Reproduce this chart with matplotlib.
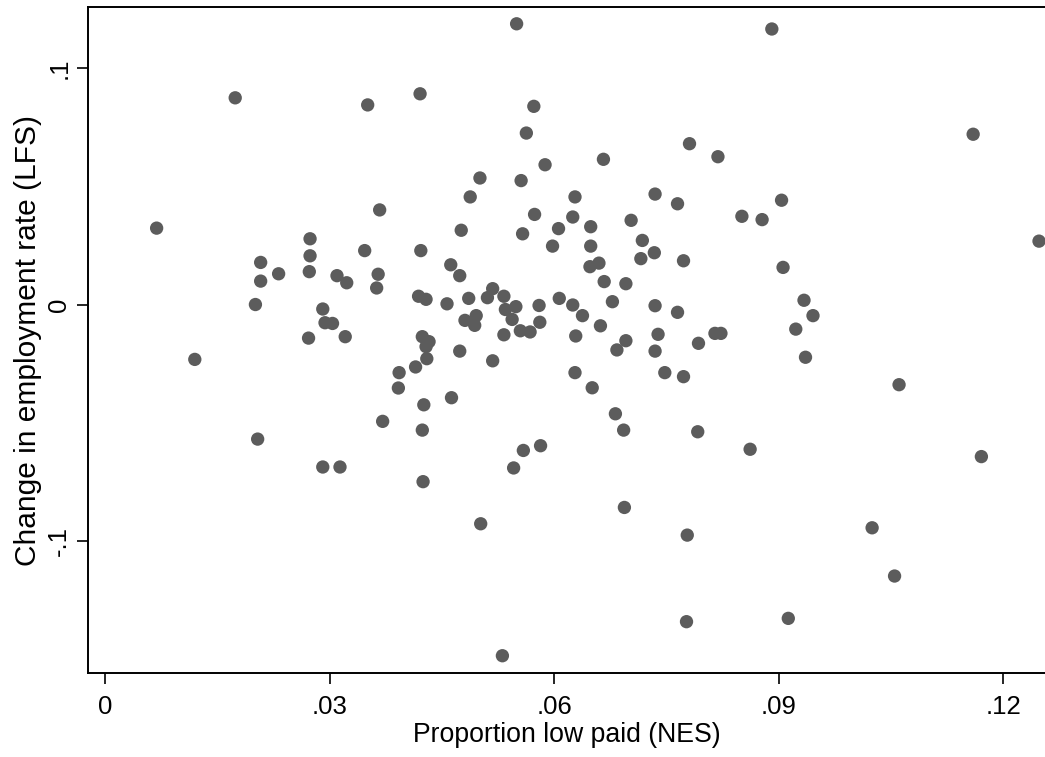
import matplotlib.pyplot as plt
import numpy as np

plt.rcParams['font.family'] = ['Liberation Sans', 'DejaVu Sans']

# proportion low paid (NES) per area
low_paid = [
    0.0069, 0.0174, 0.0120, 0.0201, 0.0208, 0.0208, 0.0204, 0.0232, 0.0274, 0.0274,
    0.0273, 0.0272, 0.0291, 0.0294, 0.0304, 0.0291, 0.0314, 0.0310, 0.0323, 0.0321,
    0.0347, 0.0351, 0.0365, 0.0363, 0.0367, 0.0371, 0.0392, 0.0393, 0.0415, 0.0419,
    0.0421, 0.0422, 0.0424, 0.0424, 0.0425, 0.0426, 0.0429, 0.0429, 0.0430, 0.0433,
    0.0457, 0.0462, 0.0463, 0.0474, 0.0474, 0.0476, 0.0481, 0.0486, 0.0488, 0.0494,
    0.0496, 0.0501, 0.0502, 0.0511, 0.0518, 0.0518, 0.0531, 0.0533, 0.0535, 0.0533,
    0.0544, 0.0546, 0.0549, 0.0550, 0.0555, 0.0556, 0.0558, 0.0559, 0.0563, 0.0568,
    0.0573, 0.0574, 0.0580, 0.0581, 0.0582, 0.0588, 0.0598, 0.0606, 0.0607, 0.0625,
    0.0625, 0.0628, 0.0628, 0.0629, 0.0638, 0.0648, 0.0649, 0.0649, 0.0651, 0.0660,
    0.0662, 0.0666, 0.0667, 0.0678, 0.0682, 0.0684, 0.0693, 0.0694, 0.0696, 0.0696,
    0.0703, 0.0716, 0.0718, 0.0734, 0.0735, 0.0735, 0.0735, 0.0739, 0.0748, 0.0765,
    0.0765, 0.0773, 0.0773, 0.0777, 0.0778, 0.0781, 0.0792, 0.0793, 0.0815, 0.0823,
    0.0819, 0.0851, 0.0862, 0.0878, 0.0891, 0.0904, 0.0906, 0.0913, 0.0923, 0.0934,
    0.0936, 0.0946, 0.1025, 0.1055, 0.1061, 0.1160, 0.1171, 0.1248,
]

# change in employment rate (LFS)
emp_change = [
    0.0323, 0.0874, -0.0232, 0.0000, 0.0178, 0.0099, -0.0569, 0.0130, 0.0278, 0.0206,
    0.0139, -0.0142, -0.0019, -0.0077, -0.0080, -0.0687, -0.0687, 0.0122, 0.0092, -0.0136,
    0.0228, 0.0844, 0.0128, 0.0070, 0.0400, -0.0494, -0.0353, -0.0288, -0.0264, 0.0035,
    0.0891, 0.0228, -0.0136, -0.0531, -0.0749, -0.0424, 0.0022, -0.0178, -0.0229, -0.0157,
    0.0003, 0.0168, -0.0394, 0.0122, -0.0197, 0.0314, -0.0067, 0.0026, 0.0455, -0.0088,
    -0.0047, 0.0535, -0.0927, 0.0029, 0.0067, -0.0238, -0.1485, 0.0035, -0.0021, -0.0128,
    -0.0063, -0.0691, -0.0009, 0.1187, -0.0111, 0.0524, 0.0299, -0.0617, 0.0725, -0.0116,
    0.0838, 0.0381, -0.0004, -0.0075, -0.0597, 0.0591, 0.0247, 0.0321, 0.0026, 0.0370,
    -0.0002, 0.0455, -0.0288, -0.0133, -0.0047, 0.0160, 0.0329, 0.0247, -0.0352, 0.0175,
    -0.0090, 0.0614, 0.0097, 0.0012, -0.0462, -0.0192, -0.0531, -0.0858, 0.0088, -0.0153,
    0.0356, 0.0194, 0.0271, 0.0219, 0.0467, -0.0005, -0.0197, -0.0126, -0.0288, 0.0426,
    -0.0033, 0.0185, -0.0305, -0.1341, -0.0975, 0.0680, -0.0538, -0.0164, -0.0122, -0.0122,
    0.0625, 0.0373, -0.0612, 0.0359, 0.1165, 0.0441, 0.0157, -0.1327, -0.0104, 0.0018,
    -0.0223, -0.0047, -0.0944, -0.1148, -0.0339, 0.0720, -0.0643, 0.0268,
]

x_ticks = [0, 0.03, 0.06, 0.09, 0.12]
x_tick_labels = ['0', '.03', '.06', '.09', '.12']
y_ticks = [-0.1, 0, 0.1]
y_tick_labels = ['-.1', '0', '.1']

fig = plt.figure(figsize=(10.45, 7.57), dpi=100)
ax = fig.add_axes([88 / 1045, 84 / 757, 957 / 1045, 666 / 757])

ax.scatter(low_paid, emp_change, s=92, color='#5c5c5c', edgecolors='none', zorder=3)

ax.set_xlim(-0.00227, 0.1256)
ax.set_ylim(-0.1558, 0.1258)

ax.set_xticks(x_ticks)
ax.set_xticklabels(x_tick_labels)
ax.set_yticks(y_ticks)
ax.set_yticklabels(y_tick_labels, rotation=90, va='center')

ax.tick_params(axis='both', direction='out', length=8, width=1.2, labelsize=18.5, colors='black')
ax.tick_params(axis='x', pad=8)
ax.tick_params(axis='y', pad=4)

for side in ['left', 'bottom', 'top']:
    ax.spines[side].set_linewidth(1.4)
    ax.spines[side].set_color('black')
ax.spines['right'].set_visible(False)

ax.set_xlabel('Proportion low paid (NES)', fontsize=19.2, labelpad=2)
ax.set_ylabel('Change in employment rate (LFS)', fontsize=21.5, labelpad=4)

fig.savefig('out.png', dpi=100)
